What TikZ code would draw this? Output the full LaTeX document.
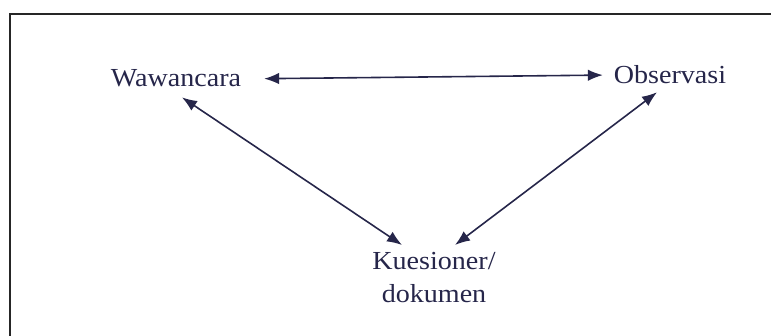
\documentclass[tikz,border=0pt]{standalone}
\usepackage{fontspec}
\setmainfont{Liberation Serif}
\usetikzlibrary{arrows.meta}
\definecolor{ink}{HTML}{26264A}
\newcommand{\widetext}[1]{\scalebox{1.08}[1]{#1}}
\begin{document}
\begin{tikzpicture}[x=1pt,y=-1pt,
  lbl/.style={font=\fontsize{26}{33}\selectfont, text=ink, inner sep=0pt, outer sep=0pt},
  link/.style={draw=ink, line width=1.6pt, {Latex[length=15pt,width=11.5pt]}-{Latex[length=15pt,width=11.5pt]}},
  frame/.style={draw=black!85, line width=2.2pt}]
\useasboundingbox (0,0) rectangle (771,336);
\draw[frame] (10,340) -- (10,14) -- (775,14);
\node[lbl, anchor=base] (wa) at (176,87) {\widetext{Wawancara}};
\node[lbl, anchor=base] (ob) at (670,84) {\widetext{Observasi}};
\node[lbl, anchor=north, align=center] (ku) at (434,252) {\widetext{Kuesioner/}\\\widetext{dokumen}};
\draw[link] ([xshift=23pt]wa.east) -- ([xshift=-11pt]ob.west);
\draw[link] ([shift={(6,10)}]wa.south) -- ([shift={(-32,-7)}]ku.north);
\draw[link] ([shift={(-13,8)}]ob.south) -- ([shift={(21,-7)}]ku.north);
\end{tikzpicture}
\end{document}
